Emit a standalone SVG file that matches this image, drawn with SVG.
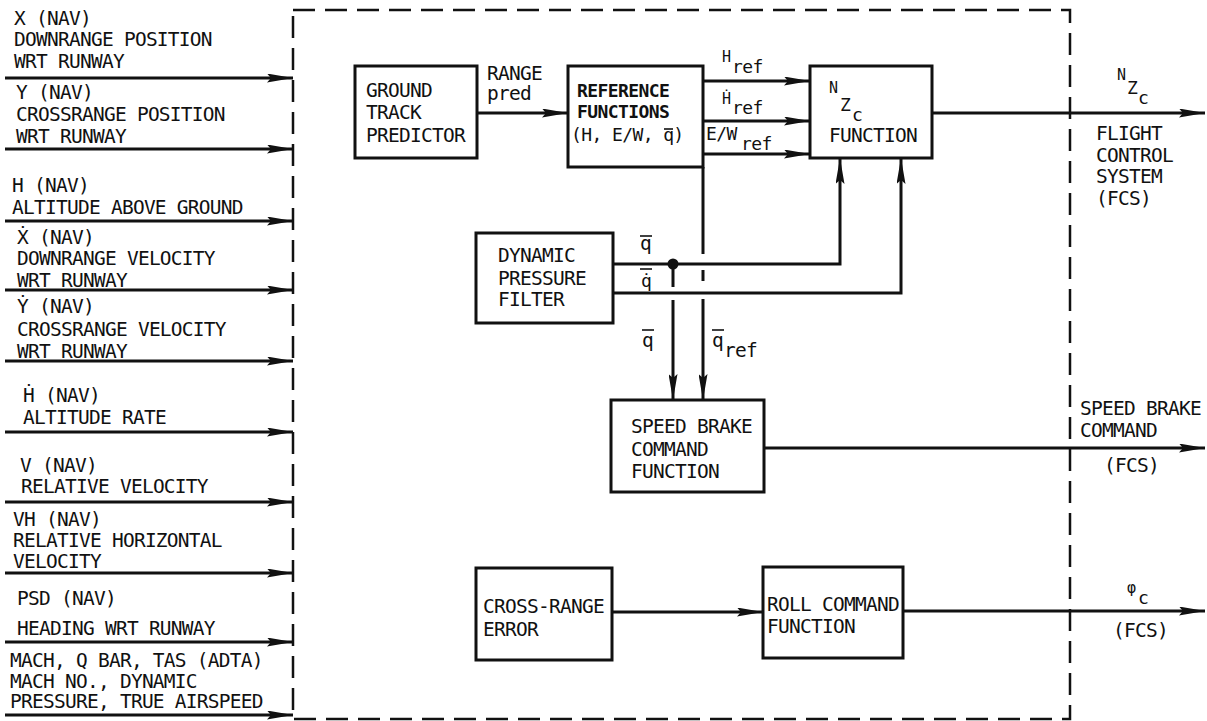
<svg xmlns="http://www.w3.org/2000/svg" width="1207" height="721" viewBox="0 0 1207 721">
<defs>
<style>
.t{font-family:"DejaVu Sans Mono","Liberation Mono",monospace;font-size:19.5px;letter-spacing:-0.75px;fill:#111}
.b{font-weight:bold;font-size:18px;letter-spacing:-0.6px}
.s{font-size:15px;letter-spacing:-0.5px}
.m{font-size:18px;letter-spacing:-0.6px}
.box{fill:#fff;stroke:#111;stroke-width:3}
.ln{fill:none;stroke:#111;stroke-width:3}
.ar{fill:none;stroke:#111;stroke-width:3;marker-end:url(#ah)}
.bar{stroke:#111;stroke-width:1.6}
.dash{fill:none;stroke:#111;stroke-width:2.5;stroke-dasharray:22 10}
</style>
<marker id="ah" viewBox="0 0 26 9" refX="26" refY="4.5" markerWidth="26" markerHeight="9" markerUnits="userSpaceOnUse" orient="auto">
<path d="M0,0 L26,4.5 L0,9 L4,4.5 z" fill="#111"/>
</marker>
</defs>
<rect width="1207" height="721" fill="#fff"/>

<g id="boundary">
<path class="dash" d="M293,10 H1070 V719 H293 Z"/>
</g>

<g id="inputs">
<text class="t" x="14" y="25">X (NAV)</text>
<text class="t" x="14" y="46">DOWNRANGE POSITION</text>
<text class="t" x="14" y="68">WRT RUNWAY</text>
<text class="t" x="16" y="99">Y (NAV)</text>
<text class="t" x="16" y="121">CROSSRANGE POSITION</text>
<text class="t" x="16" y="143">WRT RUNWAY</text>
<text class="t" x="12" y="192">H (NAV)</text>
<text class="t" x="12" y="214">ALTITUDE ABOVE GROUND</text>
<text class="t" x="17" y="244">Ẋ (NAV)</text>
<text class="t" x="17" y="265">DOWNRANGE VELOCITY</text>
<text class="t" x="17" y="287">WRT RUNWAY</text>
<text class="t" x="17" y="313">Ẏ (NAV)</text>
<text class="t" x="17" y="336">CROSSRANGE VELOCITY</text>
<text class="t" x="17" y="358">WRT RUNWAY</text>
<text class="t" x="23" y="402">Ḣ (NAV)</text>
<text class="t" x="23" y="424">ALTITUDE RATE</text>
<text class="t" x="20" y="472">V (NAV)</text>
<text class="t" x="21" y="493">RELATIVE VELOCITY</text>
<text class="t" x="13" y="526">VH (NAV)</text>
<text class="t" x="13" y="547">RELATIVE HORIZONTAL</text>
<text class="t" x="13" y="568">VELOCITY</text>
<text class="t" x="17" y="605">PSD (NAV)</text>
<text class="t" x="17" y="635">HEADING WRT RUNWAY</text>
<text class="t" x="10" y="667">MACH, Q BAR, TAS (ADTA)</text>
<text class="t" x="10" y="688">MACH NO., DYNAMIC</text>
<text class="t" x="10" y="708">PRESSURE, TRUE AIRSPEED</text>
</g>

<g id="ground-track-predictor">
<rect class="box" x="355" y="66" width="122" height="92"/>
<text class="t" x="366" y="97">GROUND</text>
<text class="t" x="366" y="119">TRACK</text>
<text class="t" x="366" y="142">PREDICTOR</text>
</g>

<g id="reference-functions">
<rect class="box" x="568" y="66" width="135" height="101"/>
<text class="t b" x="577" y="97">REFERENCE</text>
<text class="t b" x="577" y="118">FUNCTIONS</text>
<text class="t m" x="571" y="141">(H, E/W, q)</text>
<line class="bar" x1="664" y1="129" x2="673" y2="129"/>
</g>

<g id="nzc-function">
<rect class="box" x="810" y="66" width="122" height="92"/>
<text class="t s" x="829" y="93">N</text>
<text class="t m" x="840" y="111">Z</text>
<text class="t m" x="852" y="121">c</text>
<text class="t" x="829" y="142">FUNCTION</text>
</g>

<g id="dynamic-pressure-filter">
<rect class="box" x="476" y="233" width="137" height="90"/>
<text class="t" x="498" y="262">DYNAMIC</text>
<text class="t" x="498" y="285">PRESSURE</text>
<text class="t" x="498" y="306">FILTER</text>
</g>

<g id="speed-brake-command-function">
<rect class="box" x="611" y="400" width="153" height="92"/>
<text class="t" x="631" y="433">SPEED BRAKE</text>
<text class="t" x="631" y="456">COMMAND</text>
<text class="t" x="631" y="478">FUNCTION</text>
</g>

<g id="cross-range-error">
<rect class="box" x="476" y="568" width="136" height="92"/>
<text class="t" x="483" y="613">CROSS-RANGE</text>
<text class="t" x="483" y="636">ERROR</text>
</g>

<g id="roll-command-function">
<rect class="box" x="763" y="567" width="140" height="91"/>
<text class="t" x="767" y="611">ROLL COMMAND</text>
<text class="t" x="767" y="633">FUNCTION</text>
</g>

<g id="connectors">
<path class="ar" d="M5,78 H293"/>
<path class="ar" d="M5,149 H293"/>
<path class="ar" d="M5,221 H293"/>
<path class="ar" d="M5,290 H293"/>
<path class="ar" d="M5,361 H293"/>
<path class="ar" d="M5,432 H293"/>
<path class="ar" d="M5,502 H293"/>
<path class="ar" d="M5,573 H293"/>
<path class="ar" d="M5,642 H293"/>
<path class="ar" d="M5,715 H293"/>

<path class="ar" d="M477,113 H568"/>
<path class="ar" d="M703,81 H810"/>
<path class="ar" d="M703,121 H810"/>
<path class="ar" d="M703,154 H810"/>
<path class="ar" d="M932,113 H1205"/>

<path class="ar" d="M613,264 H840 V158"/>
<path class="ar" d="M613,293 H901 V158"/>
<circle cx="673" cy="264" r="5.5" fill="#111"/>
<path class="ln" d="M673,264 V287"/>
<path class="ar" d="M673,300 V400"/>
<path class="ln" d="M703,167 V254"/>
<path class="ln" d="M703,270 V281"/>
<path class="ar" d="M703,299 V400"/>

<path class="ar" d="M764,448 H1205"/>
<path class="ar" d="M612,612 H763"/>
<path class="ar" d="M903,611 H1205"/>
</g>

<g id="connector-labels">
<text class="t" x="487" y="80">RANGE</text>
<text class="t" x="487" y="100">pred</text>

<text class="t s" x="722" y="62">H</text>
<text class="t m" x="732" y="73">ref</text>
<text class="t s" x="722" y="104">Ḣ</text>
<text class="t m" x="732" y="114">ref</text>
<text class="t m" x="706" y="140">E/W</text>
<text class="t m" x="741" y="150">ref</text>

<text class="t s" x="1117" y="80">N</text>
<text class="t m" x="1127" y="94">Z</text>
<text class="t m" x="1138" y="104">c</text>
<text class="t" x="1096" y="140">FLIGHT</text>
<text class="t" x="1096" y="162">CONTROL</text>
<text class="t" x="1096" y="183">SYSTEM</text>
<text class="t" x="1096" y="205">(FCS)</text>

<text class="t" x="640" y="250">q</text>
<line class="bar" x1="640" y1="236" x2="652" y2="236"/>
<text class="t m" x="641" y="287">q̇</text>
<line class="bar" x1="640" y1="269" x2="652" y2="269"/>
<text class="t" x="642" y="347">q</text>
<line class="bar" x1="642" y1="330" x2="654" y2="330"/>
<text class="t" x="712" y="347">q</text>
<line class="bar" x1="712" y1="330" x2="724" y2="330"/>
<text class="t" x="724" y="357">ref</text>

<text class="t" x="1080" y="415">SPEED BRAKE</text>
<text class="t" x="1080" y="437">COMMAND</text>
<text class="t" x="1104" y="472">(FCS)</text>

<text class="t s" x="1127" y="593">φ</text>
<text class="t m" x="1138" y="604">c</text>
<text class="t" x="1113" y="637">(FCS)</text>
</g>
</svg>
